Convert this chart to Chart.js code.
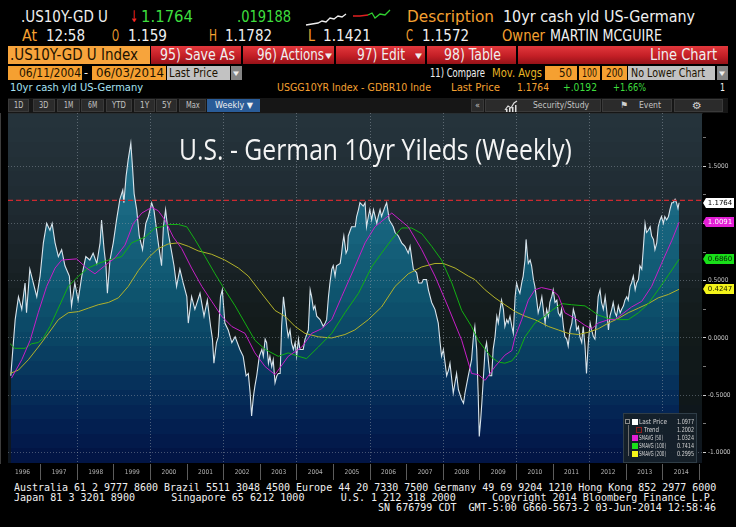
<!DOCTYPE html>
<html>
<head>
<meta charset="utf-8">
<script src="https://cdn.jsdelivr.net/npm/chart.js@4.4.1/dist/chart.umd.min.js"></script>
<style>
  html, body { margin: 0; padding: 0; background: #000; width: 736px; height: 527px; overflow: hidden; }
  #wrap { position: relative; width: 736px; height: 527px; background: #000; }
  #chartBox { position: absolute; left: 0; top: 113px; width: 736px; height: 367px; }
</style>
</head>
<body>
<div id="wrap">
  <div id="chartBox"><canvas id="chart" width="736" height="367"></canvas></div>
  <svg style="position:absolute;left:300px;top:6px" width="96" height="24">
    <polyline points="6,19 12,18 18,17 22,15 26,16 30,12 34,13 38,10 42,11 46,8" stroke="#eee" stroke-width="1.3" fill="none"/>
    <polyline points="53,10 60,10 68,9" stroke="#e02020" stroke-width="1.3" fill="none"/>
    <polyline points="68,9 72,7 75,12 80,8 85,9 90,4" stroke="#30d030" stroke-width="1.3" fill="none"/>
  </svg>
</div>
<script>
// US - German 10yr spread, weekly
const priceYears = [
  1996.18, 1996.30, 1996.39, 1996.48, 1996.57, 1996.61, 1996.70, 1996.89, 1996.98, 1997.07,
  1997.16, 1997.25, 1997.31, 1997.39, 1997.48, 1997.57, 1997.66, 1997.78, 1997.84, 1997.93,
  1998.02, 1998.12, 1998.23, 1998.34, 1998.43, 1998.53, 1998.62, 1998.66, 1998.73, 1998.78,
  1998.82, 1998.89, 1998.98, 1999.07, 1999.16, 1999.24, 1999.27, 1999.33, 1999.39, 1999.46,
  1999.51, 1999.55, 1999.62, 1999.69, 1999.78, 1999.87, 1999.94, 2000.03, 2000.09, 2000.21,
  2000.30, 2000.35, 2000.41, 2000.48, 2000.58, 2000.64, 2000.71, 2000.80, 2000.89, 2000.99,
  2001.03, 2001.12, 2001.21, 2001.35, 2001.46, 2001.55, 2001.64, 2001.69, 2001.73, 2001.80,
  2001.85, 2001.91, 2001.96, 2002.03, 2002.12, 2002.22, 2002.31,
  2002.44, 2002.53, 2002.61, 2002.67, 2002.72, 2002.76, 2002.81, 2002.85, 2002.90, 2002.97,
  2003.04, 2003.08, 2003.13, 2003.17, 2003.22, 2003.26, 2003.31, 2003.35, 2003.40, 2003.45,
  2003.49, 2003.54, 2003.58, 2003.63, 2003.67, 2003.72, 2003.76, 2003.81, 2003.85, 2003.90,
  2003.95, 2003.99, 2004.04, 2004.08, 2004.17, 2004.22, 2004.31, 2004.36, 2004.40, 2004.45,
  2004.49, 2004.54, 2004.63, 2004.72, 2004.77, 2004.81, 2004.86, 2004.90, 2004.95, 2004.99,
  2005.04, 2005.08, 2005.18, 2005.22, 2005.25, 2005.28, 2005.34, 2005.38, 2005.40, 2005.49,
  2005.59, 2005.63, 2005.68, 2005.72, 2005.81, 2005.86, 2005.90, 2005.95, 2005.99, 2006.04,
  2006.09, 2006.18, 2006.22, 2006.27, 2006.31, 2006.41, 2006.45, 2006.48, 2006.52, 2006.63,
  2006.68, 2006.77, 2006.86, 2006.95, 2007.04, 2007.09, 2007.13, 2007.18, 2007.27, 2007.32,
  2007.41, 2007.45, 2007.54, 2007.59, 2007.68, 2007.77, 2007.86, 2007.91, 2007.95, 2008.00,
  2008.09, 2008.14, 2008.18, 2008.27, 2008.36, 2008.41, 2008.50, 2008.55, 2008.59, 2008.68,
  2008.77, 2008.82, 2008.86, 2008.91, 2008.95, 2008.98, 2009.02, 2009.05, 2009.14, 2009.18,
  2009.27, 2009.32, 2009.36, 2009.41, 2009.46, 2009.50, 2009.55, 2009.59, 2009.64, 2009.68,
  2009.73, 2009.77, 2009.82, 2009.87, 2009.91, 2009.96, 2010.00, 2010.05, 2010.09, 2010.14,
  2010.18, 2010.23, 2010.26, 2010.29, 2010.32, 2010.37, 2010.41, 2010.46, 2010.50, 2010.55,
  2010.59, 2010.64, 2010.69, 2010.73, 2010.78, 2010.82, 2010.87, 2010.91, 2010.96, 2011.00,
  2011.05, 2011.10, 2011.14, 2011.19, 2011.23, 2011.28, 2011.32, 2011.37, 2011.41, 2011.46,
  2011.51, 2011.55, 2011.60, 2011.64, 2011.69, 2011.73, 2011.78, 2011.82, 2011.87, 2011.91,
  2011.96, 2012.01, 2012.05, 2012.10, 2012.14, 2012.19, 2012.23, 2012.28, 2012.32, 2012.37,
  2012.42, 2012.46, 2012.51, 2012.55, 2012.60, 2012.64, 2012.69, 2012.73, 2012.78, 2012.83,
  2012.87, 2012.92, 2012.96, 2013.01, 2013.05, 2013.10, 2013.14, 2013.19, 2013.24, 2013.28,
  2013.33, 2013.37, 2013.42, 2013.46, 2013.51, 2013.55, 2013.60, 2013.65, 2013.69, 2013.74,
  2013.78, 2013.83, 2013.87, 2013.92, 2013.96, 2014.01, 2014.05, 2014.10, 2014.15, 2014.19,
  2014.24, 2014.28, 2014.33, 2014.37, 2014.41, 2014.44
];
const priceValues = [
  -0.33, 0.16, 0.36, 0.25, 0.48, 0.22, 0.60, 0.36, 0.54, 0.83,
  1.00, 0.94, 1.00, 0.83, 0.71, 0.77, 0.63, 0.54, 0.28, 0.48,
  0.33, 0.54, 0.71, 0.68, 0.74, 0.65, 0.83, 1.03, 0.77, 0.63,
  0.39, 0.68, 0.83, 1.03, 1.21, 1.29, 1.18, 1.41, 1.56, 1.70,
  1.47, 1.26, 1.12, 0.89, 0.77, 1.00, 1.06, 1.18, 1.12, 0.83,
  0.63, 0.97, 1.12, 0.92, 0.74, 0.63, 0.45, 0.60, 0.48, 0.36,
  0.13, 0.36, 0.25, 0.39, 0.19, 0.33, 0.10, -0.01, -0.22, -0.04,
  0.01, 0.36, 0.42, 0.13, 0.07, -0.04, 0.01,
  -0.10, -0.16, -0.33, -0.31, -0.48, -0.68, -0.51, -0.42, -0.33, -0.16,
  -0.10, -0.16, -0.01, -0.04, -0.22, -0.16, -0.25, -0.19, -0.39, -0.33,
  -0.31, -0.31, 0.10, 0.36, 0.25, 0.10, 0.01, 0.07, -0.04, -0.10,
  -0.04, -0.16, -0.01, -0.10, -0.10, -0.01, 0.07, 0.42, 0.36, 0.25,
  0.28, 0.19, 0.16, 0.10, 0.13, 0.16, 0.36, 0.48, 0.60, 0.63,
  0.54, 0.63, 0.65, 0.74, 0.83, 0.89, 0.74, 0.77, 0.89, 0.97,
  0.97, 1.06, 1.12, 1.18, 1.15, 1.18, 0.97, 1.06, 1.12, 1.03,
  1.12, 1.00, 1.06, 1.12, 1.06, 1.15, 1.18, 1.12, 1.03, 0.97,
  0.92, 0.89, 0.83, 0.80, 0.74, 0.80, 0.71, 0.60, 0.57, 0.48,
  0.48, 0.51, 0.51, 0.42, 0.31, 0.25, 0.13, -0.04, -0.16, -0.10,
  -0.33, -0.28, -0.22, -0.48, -0.31, -0.45, -0.54, -0.57, -0.48, -0.33,
  -0.19, 0.01, 0.10, -0.10, -0.48, -0.86, -0.71, -0.57, -0.10, -0.04,
  -0.33, -0.33, -0.10, 0.01, 0.19, 0.13, 0.25, 0.33, 0.25, 0.10,
  0.16, 0.13, 0.19, 0.10, 0.04, 0.36, 0.48, 0.42, 0.39, 0.48,
  0.54, 0.68, 0.86, 0.74, 0.65, 0.68, 0.63, 0.51, 0.45, 0.33,
  0.22, 0.28, 0.36, 0.25, 0.13, 0.25, 0.19, 0.31, 0.36, 0.42,
  0.31, 0.33, 0.22, 0.19, 0.25, 0.10, 0.01, -0.01, -0.07, 0.07,
  0.13, 0.25, 0.19, 0.07, 0.10, 0.01, -0.04, 0.10, -0.07, -0.31,
  -0.04, 0.13, 0.07, 0.01, -0.01, 0.19, 0.36, 0.42, 0.31, 0.25,
  0.36, 0.25, 0.07, 0.19, 0.25, 0.31, 0.22, 0.19, 0.28, 0.22,
  0.25, 0.28, 0.33, 0.36, 0.33, 0.45, 0.48, 0.54, 0.42, 0.48,
  0.51, 0.63, 0.60, 0.77, 1.00, 0.92, 0.94, 0.97, 0.89, 0.86,
  0.77, 0.83, 0.97, 1.03, 1.06, 1.00, 1.06, 1.03, 1.06, 1.12,
  1.18, 1.18, 1.21, 1.18, 1.13, 1.18
];

const sma50Years = [
  1996.20, 1996.48, 1996.71, 1996.93, 1997.16, 1997.39, 1997.57, 1997.98, 1998.25, 1998.48,
  1998.71, 1999.03, 1999.30, 1999.53, 1999.76, 2000.03, 2000.21, 2000.39, 2000.62, 2000.85,
  2001.12, 2001.40, 2001.67, 2001.94, 2002.22, 2002.58, 2002.85, 2003.13, 2003.40, 2003.76,
  2004.13, 2004.40, 2004.67, 2004.95, 2005.22, 2005.58, 2005.86, 2006.13, 2006.59, 2007.04,
  2007.41, 2007.77, 2008.13, 2008.50, 2008.77, 2008.95, 2009.14, 2009.41, 2009.68, 2009.87,
  2009.96, 2010.14, 2010.32, 2010.50, 2010.68, 2010.96, 2011.14, 2011.32, 2011.60, 2011.87,
  2012.05, 2012.23, 2012.51, 2012.69, 2013.14, 2013.42, 2013.69, 2013.96, 2014.24, 2014.44
];
const sma50Values = [
  -0.35, -0.19, -0.02, 0.22, 0.45, 0.61, 0.68, 0.69, 0.61, 0.56,
  0.62, 0.70, 0.81, 1.00, 1.09, 1.14, 1.11, 1.03, 0.88, 0.78,
  0.61, 0.45, 0.32, 0.19, 0.10, 0.04, -0.13, -0.25, -0.32, -0.16,
  -0.08, 0.04, 0.08, 0.16, 0.36, 0.62, 0.83, 0.97, 1.09, 0.97,
  0.77, 0.54, 0.27, -0.02, -0.31, -0.32, -0.37, -0.25, -0.15, -0.11,
  0.01, 0.16, 0.33, 0.42, 0.44, 0.42, 0.37, 0.22, 0.17, 0.11,
  0.08, 0.13, 0.16, 0.16, 0.27, 0.32, 0.45, 0.65, 0.85, 1.01
];

const sma100Years = [
  1996.16, 1996.29, 1996.57, 1996.75, 1996.93, 1997.07, 1997.25, 1997.48, 1997.75, 1998.03,
  1998.30, 1998.57, 1998.85, 1999.21, 1999.48, 1999.85, 2000.12, 2000.30, 2000.48, 2000.76,
  2000.99, 2001.21, 2001.49, 2001.76, 2002.03, 2002.31, 2002.58, 2002.85, 2003.13, 2003.49,
  2003.76, 2004.04, 2004.26, 2004.58, 2004.95, 2005.31, 2005.68, 2006.04, 2006.31, 2006.59,
  2006.86, 2007.13, 2007.41, 2007.68, 2007.95, 2008.23, 2008.50, 2008.77, 2008.95, 2009.14,
  2009.32, 2009.50, 2009.68, 2009.87, 2010.05, 2010.23, 2010.50, 2010.78, 2010.96, 2011.23,
  2011.50, 2011.87, 2012.05, 2012.23, 2012.51, 2012.78, 2013.05, 2013.33, 2013.60, 2013.87,
  2014.15, 2014.44
];
const sma100Values = [
  -0.05, -0.09, -0.09, -0.05, -0.04, 0.00, 0.10, 0.26, 0.45, 0.54,
  0.61, 0.65, 0.68, 0.71, 0.83, 0.88, 0.96, 0.97, 0.99, 0.99,
  0.97, 0.86, 0.71, 0.56, 0.42, 0.28, 0.13, -0.02, -0.10, -0.16,
  -0.13, -0.16, -0.18, -0.08, 0.04, 0.22, 0.39, 0.62, 0.74, 0.86,
  0.96, 0.96, 0.91, 0.80, 0.68, 0.48, 0.24, 0.10, -0.02, -0.10,
  -0.17, -0.21, -0.22, -0.20, -0.13, 0.01, 0.13, 0.19, 0.24, 0.30,
  0.29, 0.28, 0.24, 0.20, 0.17, 0.16, 0.16, 0.22, 0.30, 0.42,
  0.55, 0.686
];

const sma200Years = [
  1996.16, 1996.39, 1996.66, 1996.93, 1997.21, 1997.48, 1997.75, 1998.03, 1998.30, 1998.57,
  1998.85, 1999.12, 1999.39, 1999.67, 1999.94, 2000.21, 2000.48, 2000.76, 2001.03, 2001.30,
  2001.67, 2002.03, 2002.40, 2002.67, 2003.03, 2003.40, 2003.67, 2003.95, 2004.22, 2004.58,
  2004.95, 2005.31, 2005.58, 2005.95, 2006.31, 2006.68, 2007.04, 2007.41, 2007.77, 2008.00,
  2008.32, 2008.68, 2008.86, 2009.14, 2009.41, 2009.68, 2009.96, 2010.23, 2010.50, 2010.87,
  2011.14, 2011.41, 2011.69, 2011.96, 2012.23, 2012.51, 2012.78, 2013.05, 2013.33, 2013.60,
  2013.87, 2014.15, 2014.44
];
const sma200Values = [
  -0.31, -0.28, -0.19, -0.08, 0.04, 0.16, 0.22, 0.23, 0.26, 0.29,
  0.31, 0.35, 0.45, 0.59, 0.70, 0.78, 0.82, 0.83, 0.80, 0.76,
  0.73, 0.68, 0.61, 0.54, 0.39, 0.24, 0.19, 0.10, 0.04, 0.01,
  0.00, 0.03, 0.07, 0.16, 0.27, 0.45, 0.56, 0.62, 0.65, 0.65,
  0.61, 0.54, 0.51, 0.42, 0.35, 0.29, 0.23, 0.19, 0.16, 0.10,
  0.07, 0.04, 0.03, 0.05, 0.08, 0.13, 0.17, 0.22, 0.26, 0.30,
  0.35, 0.38, 0.425
];

const trendLevel = 1.2002;
const yearTicks = [1996, 1997, 1998, 1999, 2000, 2001, 2002, 2003, 2004, 2005, 2006, 2007,
  2008, 2009, 2010, 2011, 2012, 2013, 2014, 2015];
const yTicks = [-1, -0.75, -0.5, -0.25, 0, 0.25, 0.5, 0.75, 1, 1.25, 1.5, 1.75];
const tagValues = [1.1764, 1.0091, 0.6860, 0.4247];
const tagColors = ['#ffffff', '#e41fd6', '#19e019', '#f4f41a'];
const tagText = ['#000', '#fff', '#062006', '#202000'];
const legendLabels = ['Last Price', 'Trend', 'SMAVG (50)', 'SMAVG (100)', 'SMAVG (200)'];
const legendValues = ['1.0977', '1.2002', '1.0324', '0.7414', '0.2995'];

const X_MIN = 1996.104, X_MAX = 2015.066;

// ---------- terminal chrome ----------
const wrap = document.getElementById('wrap');
const ORANGE = '#f5a031', WHITE = '#f0f0f0', GREEN = '#3ede3e', DARK = '#1c1200';

function rect(x1, y1, x2, y2, bg, extra) {
  const d = document.createElement('div');
  d.style.cssText = `position:absolute;left:${x1}px;top:${y1}px;width:${x2 - x1}px;height:${y2 - y1}px;background:${bg};box-sizing:border-box;${extra || ''}`;
  wrap.appendChild(d);
  return d;
}
function text(t, x1, x2, yc, color, size, family) {
  const d = document.createElement('div');
  d.textContent = t;
  d.style.cssText = `position:absolute;left:${x1}px;top:${yc - size * 0.6}px;height:${size * 1.2}px;line-height:${size * 1.2}px;font-size:${size}px;font-family:${family || "'DejaVu Sans'"};color:${color};white-space:pre;transform-origin:0 50%;z-index:6;`;
  wrap.appendChild(d);
  const w = d.getBoundingClientRect().width;
  if (x2 && w) d.style.transform = `scaleX(${((x2 - x1) / w).toFixed(3)})`;
  return d;
}

// row 1 + 2
text('.US10Y-GD U', 21, 108, 17, WHITE, 16);
text('↓', 130, 138, 17, '#ff2a2a', 16);
text('1.1764', 141, 193, 17, GREEN, 16);
text('.019188', 237, 291, 17, GREEN, 16);
text('Description', 407, 494, 17, ORANGE, 16);
text('10yr cash yld US-Germany', 503, 695, 17, WHITE, 16);
[['At', 22, 37, ORANGE], ['12:58', 46, 85, WHITE], ['O', 112, 119, ORANGE], ['1.159', 128, 167, WHITE],
 ['H', 209, 217, ORANGE], ['1.1782', 225, 272, WHITE], ['L', 308, 315, ORANGE], ['1.1421', 323, 371, WHITE],
 ['C', 406, 413, ORANGE], ['1.1572', 422, 469, WHITE], ['Owner', 502, 545, ORANGE], ['MARTIN MCGUIRE', 550, 662, WHITE]
].forEach(r => text(r[0], r[1], r[2], 36, r[3], 16));

// row 3 : red action bar
const RED = 'linear-gradient(#e2383c, #c41f26 55%, #961218)';
rect(8, 46, 150, 64, '#f7a43c');
[[151, 241], [243, 334], [336, 425], [427, 516], [518, 728]].forEach(b => rect(b[0], 46, b[1], 64, RED));
text('.US10Y-GD U Index', 10, 138, 55, DARK, 15);
text('95) Save As', 160, 235, 55, WHITE, 15);
text('96) Actions', 257, 324, 55, WHITE, 15);
text('▾', 325, 332, 56, WHITE, 11);
text('97) Edit', 357, 405, 55, WHITE, 15);
text('▾', 415, 422, 56, WHITE, 11);
text('98) Table', 444, 501, 55, WHITE, 15);
text('Line Chart', 650, 717, 55, WHITE, 15);

// row 4 : date range and studies
rect(8, 66, 82, 80, ORANGE); rect(92, 66, 166, 80, ORANGE);
rect(167, 66, 230, 80, '#c2c2c2'); rect(231, 66, 242, 80, '#858585');
rect(545, 66, 577, 80, ORANGE); rect(579, 66, 600, 80, ORANGE); rect(602, 66, 627, 80, ORANGE);
rect(628, 66, 715, 80, '#c2c2c2'); rect(717, 66, 728, 80, '#858585');
text('06/11/2004', 19, 81, 73, DARK, 12);
text('-', 84, 88, 73, WHITE, 12);
text('06/03/2014', 96, 164, 73, DARK, 12);
text('Last Price', 169, 218, 73, DARK, 12);
text('▾', 233, 239, 73, '#eee', 9);
text('11) Compare', 430, 485, 73, WHITE, 12);
text('Mov. Avgs', 492, 542, 73, '#e8b424', 12);
text('50', 559, 572, 73, DARK, 12);
text('100', 582, 597, 73, DARK, 12);
text('200', 606, 623, 73, DARK, 12);
text('No Lower Chart', 631, 705, 73, DARK, 12);
text('▾', 719, 725, 73, '#eee', 9);

// row 5
text('10yr cash yld US-Germany', 10, 143, 88, '#a6e2f2', 10);
text('USGG10YR Index - GDBR10 Inde', 277, 431, 88, ORANGE, 10);
text('Last Price', 451, 500, 88, ORANGE, 10);
text('1.1764', 517, 549, 88, ORANGE, 10);
text('+.0192', 563, 597, 88, GREEN, 10);
text('+1.66%', 613, 646, 88, GREEN, 10);
text('1', 720, 725, 88, WHITE, 10);

// row 6 : toolbar
rect(8, 98, 728, 113, '#161616');
const btnEdges = [[8, 29, '1D'], [33, 55, '3D'], [57, 80, '1M'], [81, 104, '6M'], [106, 132, 'YTD'],
  [134, 155, '1Y'], [156, 177, '5Y'], [179, 206, 'Max']];
btnEdges.forEach(b => {
  rect(b[0], 99, b[1], 112, '#2b2b2b', 'border:1px solid #3a3a3a;');
  const w = b[2].length * 4.6;
  text(b[2], (b[0] + b[1]) / 2 - w / 2, (b[0] + b[1]) / 2 + w / 2, 105.5, '#c4c4c4', 8);
});
rect(207, 99, 260, 112, '#2a5c98');
text('Weekly ▼', 215, 253, 105.5, WHITE, 8);
rect(471, 99, 484, 112, '#2b2b2b', 'border:1px solid #3a3a3a;');
text('«', 475, 480, 105.5, '#c4c4c4', 8);
rect(485, 99, 601, 112, '#2b2b2b', 'border:1px solid #3a3a3a;');
text('Security/Study', 533, 589, 105.5, '#c4c4c4', 8);
rect(602, 99, 672, 112, '#2b2b2b', 'border:1px solid #3a3a3a;');
text('⚑', 620, 628, 105.5, '#d0d0d0', 9);
text('Event', 639, 661, 105.5, '#c4c4c4', 8);
rect(674, 99, 723, 112, '#2b2b2b', 'border:1px solid #3a3a3a;');
text('⚙', 692, 702, 105.5, '#d0d0d0', 10);
const ic = document.createElementNS('http://www.w3.org/2000/svg', 'svg');
ic.setAttribute('width', '14'); ic.setAttribute('height', '12');
ic.style.cssText = 'position:absolute;left:504px;top:100px;z-index:6';
ic.innerHTML = '<polyline points="1,10 4,6 7,8 10,3 13,1" stroke="#ddd" fill="none" stroke-width="1.2"/>' +
  '<rect x="2" y="9" width="1.5" height="3" fill="#ddd"/><rect x="5" y="8" width="1.5" height="4" fill="#ddd"/>' +
  '<rect x="8" y="7" width="1.5" height="5" fill="#ddd"/><rect x="11" y="5" width="1.5" height="7" fill="#ddd"/>';
wrap.appendChild(ic);

// footer
const MONO = "'DejaVu Sans Mono'";
text('Australia 61 2 9777 8600 Brazil 5511 3048 4500 Europe 44 20 7330 7500 Germany 49 69 9204 1210 Hong Kong 852 2977 6000', 14, 716, 488, WHITE, 10, MONO);
text('Japan 81 3 3201 8900      Singapore 65 6212 1000      U.S. 1 212 318 2000      Copyright 2014 Bloomberg Finance L.P.', 14, 716, 498, WHITE, 10, MONO);
text('SN 676799 CDT  GMT-5:00 G660-5673-2 03-Jun-2014 12:58:46', 378, 716, 508, WHITE, 10, MONO);

// title inside the plot
text('U.S. - German 10yr Yileds (Weekly)', 179, 572, 149, '#f4f4f4', 29, "'Open Sans'");

// legend box
rect(623, 413, 697, 463, 'rgba(22,32,40,0.93)', 'border:1px solid #2f3d47;z-index:5;');
rect(625, 419, 630, 424, 'transparent', 'border:1px solid #8a8a8a;z-index:6;');
rect(628, 425, 629, 456, '#6a6a6a', 'z-index:6;');
const legendY = [422, 430, 438, 446, 454];
const swatch = [['#ffffff', 632], ['transparent', 636], ['#e41fd6', 632], ['#19e019', 632], ['#f4f41a', 632]];
legendLabels.forEach((lab, i) => {
  rect(swatch[i][1], legendY[i] - 3, swatch[i][1] + 6, legendY[i] + 3, swatch[i][0], 'z-index:6;' + (i === 1 ? 'border:1px solid #8a1c1c;' : ''));
  const x1 = i === 1 ? 644 : 639;
  const x2 = [667, 659, 663, 666, 666][i];
  text(lab, x1, x2, legendY[i], '#d4d4d4', 7);
  text(legendValues[i], 677, 694, legendY[i], '#d4d4d4', 7);
});

// ---------- chart ----------
const pts = (xs, ys) => xs.map((x, i) => ({ x: x, y: ys[i] }));

const bgStops = [[0, [38, 52, 60]], [0.3, [30, 41, 48]], [0.5, [22, 31, 33]], [0.62, [18, 26, 26]],
  [0.8, [16, 24, 26]], [1, [14, 22, 32]]];
const fillStops = [[0, [42, 124, 150]], [0.3, [24, 102, 128]], [0.5, [15, 86, 112]], [0.65, [10, 68, 100]],
  [0.78, [6, 48, 90]], [0.9, [3, 30, 80]], [1, [2, 18, 66]]];

function mix(stops, t) {
  for (let i = 1; i < stops.length; i++) {
    if (t <= stops[i][0]) {
      const a = stops[i - 1], b = stops[i];
      const k = (t - a[0]) / (b[0] - a[0]);
      return 'rgb(' + a[1].map((c, j) => Math.round(c + (b[1][j] - c) * k)).join(',') + ')';
    }
  }
  return 'rgb(' + stops[stops.length - 1][1].join(',') + ')';
}
function bands(ctx, area, stops, n) {
  const g = ctx.createLinearGradient(0, area.top, 0, area.bottom);
  for (let i = 0; i < n; i++) {
    const c = mix(stops, (i + 0.5) / n);
    g.addColorStop(i / n, c);
    g.addColorStop(Math.max(i / n, (i + 1) / n - 0.0005), c);
  }
  return g;
}

const plotBg = {
  id: 'plotBg',
  beforeDraw(chart) {
    const { ctx, chartArea: a } = chart;
    ctx.save();
    ctx.fillStyle = bands(ctx, a, bgStops, 24);
    ctx.fillRect(a.left, a.top, a.right - a.left, a.bottom - a.top);
    ctx.restore();
  }
};

const valueTags = {
  id: 'valueTags',
  afterDraw(chart) {
    const ctx = chart.ctx, y = chart.scales.y, x0 = chart.chartArea.right;
    ctx.save();
    ctx.font = '7px "DejaVu Sans"';
    ctx.textAlign = 'center';
    ctx.textBaseline = 'middle';
    tagValues.forEach((v, i) => {
      const py = Math.round(y.getPixelForValue(v));
      ctx.fillStyle = tagColors[i];
      ctx.beginPath();
      ctx.moveTo(x0 + 1, py);
      ctx.lineTo(x0 + 4, py - 5);
      ctx.lineTo(x0 + 32, py - 5);
      ctx.lineTo(x0 + 32, py + 5);
      ctx.lineTo(x0 + 4, py + 5);
      ctx.closePath();
      ctx.fill();
      ctx.fillStyle = tagText[i];
      ctx.fillText(v.toFixed(4), x0 + 18, py + 0.5);
    });
    ctx.restore();
  }
};

const isHalf = v => Math.abs(v * 2 - Math.round(v * 2)) < 1e-6;

new Chart(document.getElementById('chart'), {
  type: 'line',
  data: {
    datasets: [
      { label: 'Trend', data: [{ x: X_MIN, y: trendLevel }, { x: X_MAX, y: trendLevel }],
        borderColor: '#cc2a30', borderWidth: 1.2, borderDash: [5, 3], pointRadius: 0, fill: false, order: 1 },
      { label: 'SMAVG (50)', data: pts(sma50Years, sma50Values), borderColor: '#c81ec8', borderWidth: 1,
        pointRadius: 0, fill: false, order: 2 },
      { label: 'SMAVG (100)', data: pts(sma100Years, sma100Values), borderColor: '#12b012', borderWidth: 1,
        pointRadius: 0, fill: false, order: 3 },
      { label: 'SMAVG (200)', data: pts(sma200Years, sma200Values), borderColor: '#b2b22a', borderWidth: 1,
        pointRadius: 0, fill: false, order: 4 },
      { label: 'Last Price', data: pts(priceYears, priceValues), borderColor: '#d8e4ec', borderWidth: 1.1,
        pointRadius: 0, order: 5, fill: 'start',
        backgroundColor: c => c.chart.chartArea ? bands(c.chart.ctx, c.chart.chartArea, fillStops, 24) : 'transparent' }
    ]
  },
  options: {
    responsive: false,
    animation: false,
    events: [],
    layout: { padding: { left: 8, right: 0, top: 0, bottom: 0 } },
    elements: { line: { tension: 0 } },
    plugins: {
      legend: { display: false },
      tooltip: { enabled: false },
      filler: { drawTime: 'beforeDatasetsDraw' }
    },
    scales: {
      x: {
        type: 'linear', min: X_MIN, max: X_MAX,
        afterBuildTicks: ax => { ax.ticks = yearTicks.map(v => ({ value: v })); },
        afterFit: ax => { ax.height = 17; ax.paddingLeft = 0; ax.paddingRight = 0; },
        grid: {
          z: 1,
          color: c => (c.tick && c.tick.value % 2 === 0 && c.tick.value > 1996 && c.tick.value < 2015) ? 'rgba(150,160,170,0.5)' : 'rgba(0,0,0,0)',
          tickColor: c => (c.tick && c.tick.value > 1996) ? '#5c5c5c' : 'rgba(0,0,0,0)',
          tickLength: 17, lineWidth: 1
        },
        border: { display: true, color: '#2a2a2a', dash: [1, 2] },
        ticks: {
          autoSkip: false, maxRotation: 0, labelOffset: 18.3, padding: -12,
          color: '#b4b4b4', font: { family: 'DejaVu Sans Condensed, DejaVu Sans', size: 6.5 },
          callback: v => v < 2015 ? String(v) : ''
        }
      },
      y: {
        position: 'right', min: -1.091, max: 1.963,
        afterBuildTicks: ax => { ax.ticks = yTicks.map(v => ({ value: v })); },
        afterFit: ax => { ax.width = 34; ax.paddingTop = 0; ax.paddingBottom = 0; },
        grid: {
          z: 1,
          color: c => (c.tick && isHalf(c.tick.value)) ? 'rgba(150,160,170,0.45)' : 'rgba(0,0,0,0)',
          tickColor: c => (c.tick && isHalf(c.tick.value)) ? '#d0d0d0' : '#7a7a7a',
          tickLength: 4, lineWidth: 1
        },
        border: { display: true, color: '#7a7a7a', dash: [1, 2] },
        ticks: {
          autoSkip: false, padding: 2, color: '#c4c4c4',
          font: { family: 'DejaVu Sans Condensed, DejaVu Sans', size: 6.5 },
          callback: v => isHalf(v) ? v.toFixed(4) : ''
        }
      }
    }
  },
  plugins: [plotBg, valueTags]
});
</script>
</body>
</html>
